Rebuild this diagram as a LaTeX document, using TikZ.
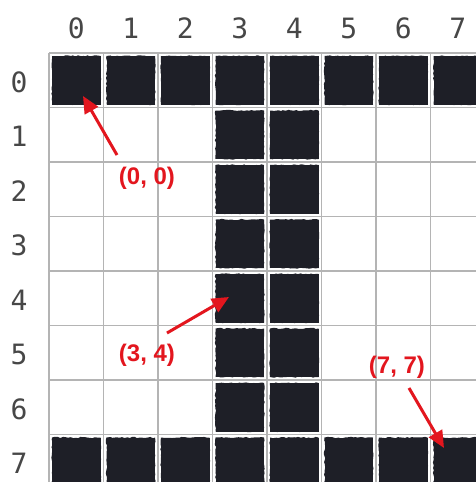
\documentclass[tikz,border=0pt]{standalone}
\usepackage{fontspec}
\newfontfamily\monofont{DejaVu Sans Mono}
\newfontfamily\lblfont{Liberation Sans}
\usetikzlibrary{arrows.meta,decorations.pathmorphing,calc}
\definecolor{inkdark}{HTML}{1E1F27}
\definecolor{gridgray}{HTML}{B4B4B4}
\definecolor{arrowred}{HTML}{E3161E}
\begin{document}
\begin{tikzpicture}[x=1pt,y=-1pt,
  cellbox/.style={fill=inkdark,minimum size=48.5pt,inner sep=0pt,outer sep=0pt},
  roughedge/.style={fill=inkdark,decorate,decoration={random steps,segment length=2.5pt,amplitude=0.7pt}},
  axislabel/.style={font=\monofont\fontsize{28}{30}\selectfont,text=black!72,inner sep=0pt},
  coordlabel/.style={font=\lblfont\bfseries\fontsize{24}{26}\selectfont,text=arrowred,inner sep=0pt},
  pointer/.style={draw=arrowred,line width=3pt,-{Triangle[length=17pt,width=15pt]}}]
\pgfmathsetseed{11}
\useasboundingbox (0,0) rectangle (476,482);
\clip (0,0) rectangle (476,482);
\fill[white] (0,0) rectangle (476,482);
% grid
\foreach \k in {0,...,8}{
  \draw[gridgray,line width=1.2pt] ({49+54.5*\k},53) -- ({49+54.5*\k},500);
  \draw[gridgray,line width=1.2pt] (49,{53+54.5*\k}) -- (500,{53+54.5*\k});
}
% axis labels
\foreach \k in {0,...,7}{
  \node[axislabel] (col\k) at ({49+54.5*\k+27.25},28) {\k};
  \node[axislabel] (row\k) at (19,{53+54.5*\k+29}) {\k};
}
% filled cells
\foreach \i in {0,...,7}{
  \node[cellbox] (c-\i-0) at ({49+54.5*\i+27.25},{53+27.25}) {};
  \path[roughedge] (c-\i-0.north west) rectangle (c-\i-0.south east);
  \node[cellbox] (c-\i-7) at ({49+54.5*\i+27.25},{53+54.5*7+27.25}) {};
  \path[roughedge] (c-\i-7.north west) rectangle (c-\i-7.south east);
}
\foreach \j in {1,...,6}{
  \node[cellbox] (c-3-\j) at ({49+54.5*3+27.25},{53+54.5*\j+27.25}) {};
  \path[roughedge] (c-3-\j.north west) rectangle (c-3-\j.south east);
  \node[cellbox] (c-4-\j) at ({49+54.5*4+27.25},{53+54.5*\j+27.25}) {};
  \path[roughedge] (c-4-\j.north west) rectangle (c-4-\j.south east);
}
% labels and arrows
\node[coordlabel] (l00) at (147,178) {(0, 0)};
\node[coordlabel] (l34) at (147,355) {(3, 4)};
\node[coordlabel] (l77) at (397,367) {(7, 7)};
\coordinate (t00) at (117,155);
\coordinate (h00) at (83,96);
\coordinate (t34) at (167,333);
\coordinate (h34) at (229,297);
\coordinate (t77) at (409,388);
\coordinate (h77) at (444,448);
\draw[pointer] (t00) -- (h00);
\draw[pointer] (t34) -- (h34);
\draw[pointer] (t77) -- (h77);
\end{tikzpicture}
\end{document}
